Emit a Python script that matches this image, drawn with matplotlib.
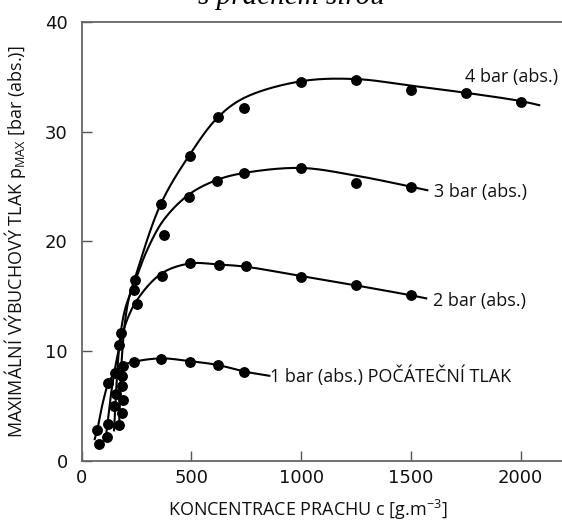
import numpy as np
import matplotlib
matplotlib.use("Agg")
import matplotlib.pyplot as plt

# ---------------- data ----------------
# measured points, concentration c [g.m-3] and pmax [bar (abs.)]
p1_x = [71, 122, 150, 188, 240, 363, 492, 620, 742]
p1_y = [2.85, 7.1, 8.0, 8.7, 9.0, 9.3, 9.05, 8.75, 8.1]
p2_x = [77, 147, 155, 185, 250, 365, 495, 625, 748, 1000, 1250, 1500]
p2_y = [1.55, 5.0, 6.1, 7.7, 14.3, 16.9, 18.0, 17.85, 17.8, 16.75, 16.05, 15.1]
p3_x = [117, 182, 170, 238, 375, 490, 615, 742, 1000, 1250, 1500]
p3_y = [2.2, 6.8, 10.6, 15.6, 20.6, 24.1, 25.5, 26.2, 26.7, 25.3, 25.0]
p4_x = [122, 170, 183, 188, 177, 245, 360, 492, 620, 742, 1000, 1250, 1500, 1750, 2000]
p4_y = [3.4, 3.3, 4.4, 5.6, 11.7, 16.5, 23.4, 27.8, 31.3, 32.2, 34.5, 34.7, 33.8, 33.5, 32.75]

# fitted curves (knots)
c1_x = [58, 71, 95, 122, 150, 188, 240, 363, 492, 620, 742, 860]
c1_y = [1.9, 2.85, 5.2, 7.1, 8.0, 8.7, 9.05, 9.35, 9.1, 8.75, 8.15, 7.75]
c2_x = [108, 118, 135, 160, 195, 250, 365, 495, 625, 748, 1000, 1250, 1500, 1575]
c2_y = [1.8, 3.5, 6.3, 9.3, 12.2, 14.6, 17.1, 18.0, 17.9, 17.7, 16.85, 16.0, 15.1, 14.8]
c3_x = [147, 155, 165, 180, 200, 240, 300, 375, 490, 615, 742, 1000, 1250, 1500, 1580]
c3_y = [2.7, 5.5, 9.0, 12.0, 14.0, 16.2, 19.3, 22.0, 24.3, 25.6, 26.25, 26.7, 26.0, 25.0, 24.65]
c4_x = [170, 176, 185, 198, 215, 245, 360, 492, 620, 742, 1000, 1250, 1500, 1750, 2000, 2090]
c4_y = [3.0, 6.5, 10.0, 12.8, 14.8, 16.8, 23.4, 27.9, 31.3, 33.1, 34.6, 34.8, 34.2, 33.55, 32.8, 32.4]

labels = ["1 bar (abs.) POČÁTEČNÍ TLAK", "2 bar (abs.)", "3 bar (abs.)", "4 bar (abs.)"]
label_x = [860, 1600, 1607, 1747]
label_y = [7.8, 14.6, 24.5, 34.95]

x_ticks = [0, 500, 1000, 1500, 2000]
y_ticks = [0, 10, 20, 30, 40]


def catmull_rom(xs, ys, n=30):
    P = np.column_stack([xs, ys]).astype(float)
    S = P / np.array([2000.0, 40.0])
    P_ext = np.vstack([P[0] * 2 - P[1], P, P[-1] * 2 - P[-2]])
    S_ext = np.vstack([S[0] * 2 - S[1], S, S[-1] * 2 - S[-2]])
    out = []
    for i in range(1, len(P_ext) - 2):
        p0, p1, p2, p3 = P_ext[i - 1:i + 3]
        s0, s1, s2, s3 = S_ext[i - 1:i + 3]
        t0 = 0.0
        t1 = t0 + np.linalg.norm(s1 - s0) ** 0.5 + 1e-9
        t2 = t1 + np.linalg.norm(s2 - s1) ** 0.5 + 1e-9
        t3 = t2 + np.linalg.norm(s3 - s2) ** 0.5 + 1e-9
        t = np.linspace(t1, t2, n)[:, None]
        A1 = (t1 - t) / (t1 - t0) * p0 + (t - t0) / (t1 - t0) * p1
        A2 = (t2 - t) / (t2 - t1) * p1 + (t - t1) / (t2 - t1) * p2
        A3 = (t3 - t) / (t3 - t2) * p2 + (t - t2) / (t3 - t2) * p3
        B1 = (t2 - t) / (t2 - t0) * A1 + (t - t0) / (t2 - t0) * A2
        B2 = (t3 - t) / (t3 - t1) * A2 + (t - t1) / (t3 - t1) * A3
        C = (t2 - t) / (t2 - t1) * B1 + (t - t1) / (t2 - t1) * B2
        out.append(C)
    C = np.vstack(out)
    return C[:, 0], C[:, 1]


fig = plt.figure(figsize=(5.62, 5.20), dpi=100)
W, H = 562.0, 520.0
x0_px = 81.7
ax = fig.add_axes([x0_px / W, 59 / H, (572 - x0_px) / W, 439 / H])
plt.rcParams['font.family'] = ['Open Sans', 'DejaVu Sans']
font = ['Open Sans', 'DejaVu Sans']

for cx, cy in [(c1_x, c1_y), (c2_x, c2_y), (c3_x, c3_y), (c4_x, c4_y)]:
    sx, sy = catmull_rom(cx, cy)
    ax.plot(sx, sy, color='black', lw=1.5, solid_capstyle='butt', zorder=2)

for px, py in [(p1_x, p1_y), (p2_x, p2_y), (p3_x, p3_y), (p4_x, p4_y)]:
    ax.plot(px, py, 'o', color='black', ms=6.8, zorder=3, mec='black')

for t, lx, ly in zip(labels, label_x, label_y):
    ax.text(lx, ly, t, fontsize=13, family=font, ha='left', va='center', color='#111111')

ax.set_xlim(0, (572 - x0_px) / 0.2194)
ax.set_ylim(0, 40)
ax.set_xticks(x_ticks)
ax.set_yticks(y_ticks)
ax.tick_params(direction='in', length=7, width=1.0, color='#555555', labelsize=13,
               labelcolor='#111111')
ax.tick_params(axis='y', pad=10)
ax.tick_params(axis='x', pad=6)
for s in ['left', 'bottom', 'top']:
    ax.spines[s].set_color('#666666')
    ax.spines[s].set_linewidth(1.3)
ax.spines['right'].set_visible(False)

ax.set_xlabel('KONCENTRACE PRACHU c [g.m$^{\\mathregular{-3}}$]', fontsize=13, family=font,
              color='#111111')
ax.xaxis.set_label_coords(0.46, -0.085)
ax.set_ylabel('MAXIMÁLNÍ VÝBUCHOVÝ TLAK p$_{\\mathregular{MAX}}$ [bar (abs.)]', fontsize=13,
              family=font, color='#111111')
ax.yaxis.set_label_coords(-0.11, 0.50)

fig.text(291 / W, 1 - 4 / H, 's prachem sírou', fontsize=21, family='Liberation Serif',
         style='italic', ha='center', va='baseline')

fig.savefig('out.png', dpi=100)
